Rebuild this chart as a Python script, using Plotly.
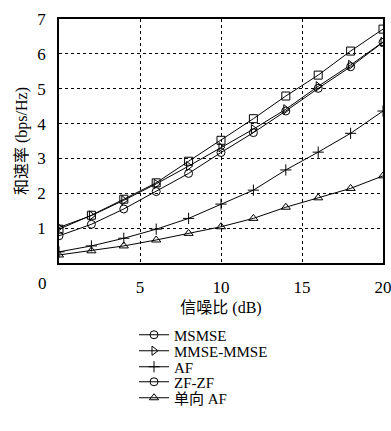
import plotly.graph_objects as go

snr = [0, 2, 4, 6, 8, 10, 12, 14, 16, 18, 20]
msmse = [0.97, 1.37, 1.83, 2.30, 2.92, 3.52, 4.14, 4.79, 5.39, 6.08, 6.71]
mmse_mmse = [1.02, 1.36, 1.80, 2.27, 2.78, 3.32, 3.84, 4.41, 5.07, 5.68, 6.34]
af = [0.32, 0.49, 0.71, 0.97, 1.28, 1.69, 2.09, 2.67, 3.18, 3.72, 4.36]
zf_zf = [0.78, 1.11, 1.55, 2.05, 2.57, 3.17, 3.74, 4.36, 5.01, 5.63, 6.33]
oneway_af = [0.23, 0.35, 0.49, 0.66, 0.85, 1.04, 1.28, 1.60, 1.87, 2.14, 2.50]

names = ["MSMSE", "MMSE-MMSE", "AF", "ZF-ZF", "单向 AF"]
series = [msmse, mmse_mmse, af, zf_zf, oneway_af]
plot_symbols = ["square-open", "triangle-right-open", "cross-thin-open", "circle-open", "triangle-up-open"]
legend_symbols = ["circle-open", "triangle-right-open", "cross-thin-open", "circle-open", "triangle-up-open"]

x_ticks = [5, 10, 15, 20]
y_ticks = [1, 2, 3, 4, 5, 6, 7]

LAT = "Liberation Serif, Times New Roman, DejaVu Serif, serif"
FONT = "Liberation Serif, Times New Roman, DejaVu Serif, Noto Sans CJK SC, serif"

L, R, T, B = 59, 8, 19, 168
PW, PH = 391 - L - R, 431 - T - B

def px_x(px):
    return (px - L) / PW

def px_y(py):
    return (431 - B - py) / PH

fig = go.Figure()
for name, ys, sym in zip(names, series, plot_symbols):
    fig.add_trace(go.Scatter(
        x=snr, y=ys, mode="lines+markers", showlegend=False,
        line=dict(color="black", width=1),
        marker=dict(symbol=sym, size=8, color="black", line=dict(color="black", width=1)),
    ))

legend_rows = [335, 351, 367, 382, 398]
layout_legends = {}
for i, (name, sym, row) in enumerate(zip(names, legend_symbols, legend_rows)):
    key = "legend" if i == 0 else f"legend{i + 1}"
    fig.add_trace(go.Scatter(
        x=[None], y=[None], mode="lines+markers", name=name, legend=key,
        line=dict(color="black", width=1),
        marker=dict(symbol=sym, size=8, color="black", line=dict(color="black", width=1)),
    ))
    layout_legends[key] = dict(
        x=px_x(134), y=px_y(row), xanchor="left", yanchor="middle",
        font=dict(size=15, family=FONT, color="black"), bgcolor="rgba(0,0,0,0)",
        borderwidth=0, itemwidth=30,
    )

fig.update_layout(
    width=391, height=431,
    margin=dict(l=L, r=R, t=T, b=B, autoexpand=False),
    paper_bgcolor="white", plot_bgcolor="white",
    font=dict(family=FONT, color="black", size=16),
    annotations=[dict(text="0", x=px_x(42), y=px_y(283),
                      xref="paper", yref="paper", showarrow=False,
                      xanchor="center", yanchor="middle", font=dict(size=17, family=LAT))],
    **layout_legends,
)
fig.update_xaxes(
    range=[0, 20], tickvals=x_ticks, ticks="", ticklabelstandoff=8,
    ticklabeloverflow="allow",
    tickfont=dict(size=17, family=LAT),
    showgrid=True, gridcolor="black", griddash="dot", gridwidth=1,
    showline=True, linecolor="black", linewidth=1.5, mirror=True, zeroline=False,
    title=dict(text="信噪比 (dB)", font=dict(size=16, family=FONT), standoff=6),
)
fig.update_yaxes(
    range=[0, 7], tickvals=y_ticks, ticks="", ticklabelstandoff=8,
    ticklabeloverflow="allow",
    tickfont=dict(size=17, family=LAT),
    showgrid=True, gridcolor="black", griddash="dot", gridwidth=1,
    showline=True, linecolor="black", linewidth=1.5, mirror=True, zeroline=False,
    title=dict(text="和速率 (bps/Hz)", font=dict(size=16, family=FONT), standoff=6),
)

fig.write_html("out.html")
